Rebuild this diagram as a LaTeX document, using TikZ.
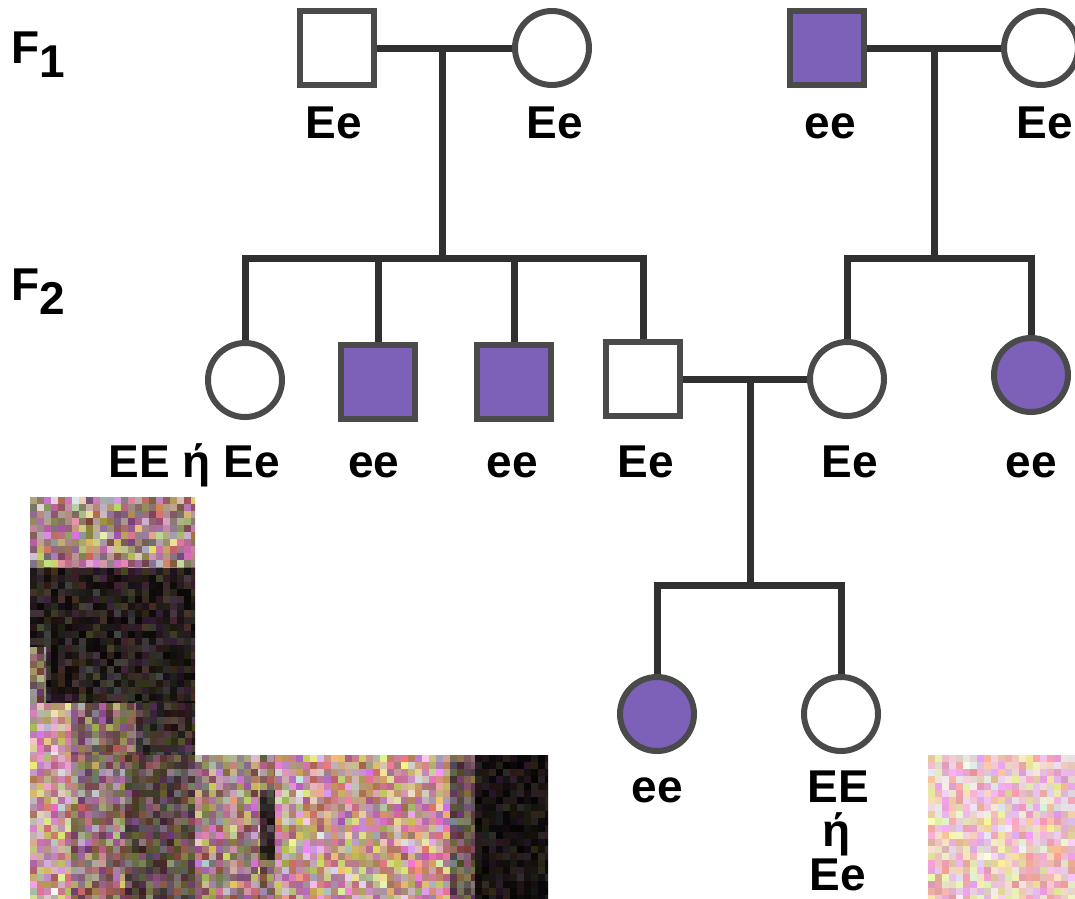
\documentclass[tikz,border=0pt]{standalone}
\usepackage{fontspec}
\setmainfont{Liberation Sans}

\definecolor{ecolor}{HTML}{7D60B8}
\definecolor{linec}{HTML}{303030}
\definecolor{rimc}{HTML}{4A4A4A}

% grainy block of cells: x0 y0 x1 y1 lo hi spread
\newcommand\noisepatch[7]{%
  \begin{scope}
    \clip (#1,#2) rectangle (#3,#4);
    \pgfmathtruncatemacro\ncols{ceil((#3-#1)/7)-1}
    \pgfmathtruncatemacro\nrows{ceil((#4-#2)/7)-1}
    \foreach \i in {0,...,\ncols}{
      \foreach \j in {0,...,\nrows}{
        \pgfmathsetmacro\lum{#5+(#6-#5)*rnd}
        \pgfmathsetmacro\rr{\lum*(1-#7*0.15*rnd)}
        \pgfmathsetmacro\gg{\lum*(1-#7*0.55*rnd)}
        \pgfmathsetmacro\bb{\lum*(1-#7*0.6*rnd)}
        \definecolor{cellc}{rgb}{\rr,\gg,\bb}
        \fill[cellc] ({#1+7*\i},{#2+7*\j}) rectangle +(7.2,7.2);
      }}
  \end{scope}}

\tikzset{
  person/.style={draw=rimc, line width=6pt, fill=white, minimum size=74pt, inner sep=0pt},
  male/.style={person, rectangle},
  female/.style={person, circle},
  affected/.style={fill=ecolor},
  link/.style={draw=linec, line width=7pt},
  geno/.style={anchor=base, inner sep=0pt, font=\bfseries\fontsize{46}{46}\selectfont},
}

\begin{document}
\begin{tikzpicture}[x=1pt,y=-1pt]
  \useasboundingbox (0,0) rectangle (1075,898);
  \fill[white] (0,0) rectangle (1075,898);
  \pgfmathsetseed{11}

  % photo scraps
  \noisepatch{30}{497}{195}{568}{0.5}{0.95}{1}
  \noisepatch{30}{568}{195}{703}{0.04}{0.3}{1}
  \noisepatch{30}{647}{46}{703}{0.35}{0.8}{1}
  \noisepatch{30}{703}{71}{755}{0.75}{1}{1}
  \noisepatch{71}{703}{136}{755}{0.35}{0.75}{1}
  \noisepatch{136}{703}{195}{755}{0.1}{0.4}{1}
  \noisepatch{30}{755}{71}{898}{0.75}{1}{1}
  \noisepatch{71}{755}{125}{898}{0.45}{0.85}{1}
  \noisepatch{125}{755}{195}{898}{0.25}{0.6}{1}
  \noisepatch{195}{755}{260}{898}{0.5}{0.95}{1}
  \noisepatch{260}{755}{275}{898}{0.4}{0.8}{1}
  \noisepatch{260}{790}{275}{860}{0.1}{0.35}{1}
  \noisepatch{275}{755}{450}{898}{0.7}{1}{1}
  \noisepatch{450}{755}{475}{898}{0.3}{0.6}{1}
  \noisepatch{475}{755}{548}{898}{0.02}{0.2}{1}
  \noisepatch{928}{755}{1075}{898}{0.95}{1}{0.7}

  % generation labels
  \node[geno, anchor=base west] (gen1) at (11,63) {F\raisebox{-14pt}{1}};
  \node[geno, anchor=base west] (gen2) at (11,300) {F\raisebox{-14pt}{2}};

  % F1 couples
  \node[male] (pa) at (337,48) {};
  \node[female] (ma) at (552,48) {};
  \node[male, affected] (pb) at (827,48) {};
  \node[female] (mb) at (1041,48) {};
  \draw[link] (pa) -- (ma);
  \draw[link] (pb) -- (mb);

  % F2
  \node[female] (k1) at (245,380) {};
  \node[male, affected] (k2) at (378,382) {};
  \node[male, affected] (k3) at (514,382) {};
  \node[male] (k4) at (643,379) {};
  \node[female] (k5) at (847,379) {};
  \node[female, affected] (k6) at (1031,375) {};
  \draw[link] (k4) -- (k5);

  % F3
  \node[female, affected] (g1) at (657,714) {};
  \node[female] (g2) at (841,714) {};

  % lines of descent
  \coordinate (sa) at (442,258);
  \coordinate (sb) at (934,258);
  \coordinate (sc) at (750,585);
  \draw[link] (sa |- pa) -- (sa);
  \draw[link] (sb |- pb) -- (sb);
  \draw[link] (sc |- k4) -- (sc);
  \foreach \k in {k1,k2,k3,k4}
    \draw[link] (\k) |- (sa);
  \foreach \k in {k5,k6}
    \draw[link] (\k) |- (sb);
  \foreach \k in {g1,g2}
    \draw[link] (\k) |- (sc);

  % genotypes
  \node[geno] (tpa) at (334,138) {Ee};
  \node[geno] (tma) at (555,138) {Ee};
  \node[geno] (tpb) at (830,138) {ee};
  \node[geno] (tmb) at (1045,138) {Ee};
  \node[geno] (tk1) at (194,477) {EE ή Ee};
  \node[geno] (tk2) at (374,477) {ee};
  \node[geno] (tk3) at (512,477) {ee};
  \node[geno] (tk4) at (646,477) {Ee};
  \node[geno] (tk5) at (850,477) {Ee};
  \node[geno] (tk6) at (1031,477) {ee};
  \node[geno] (tg1) at (657,802) {ee};
  \node[geno] (tg2) at (838,802) {EE};
  \node[geno] (tg2b) at (837,846) {ή};
  \node[geno] (tg2c) at (838,890) {Ee};
\end{tikzpicture}
\end{document}
